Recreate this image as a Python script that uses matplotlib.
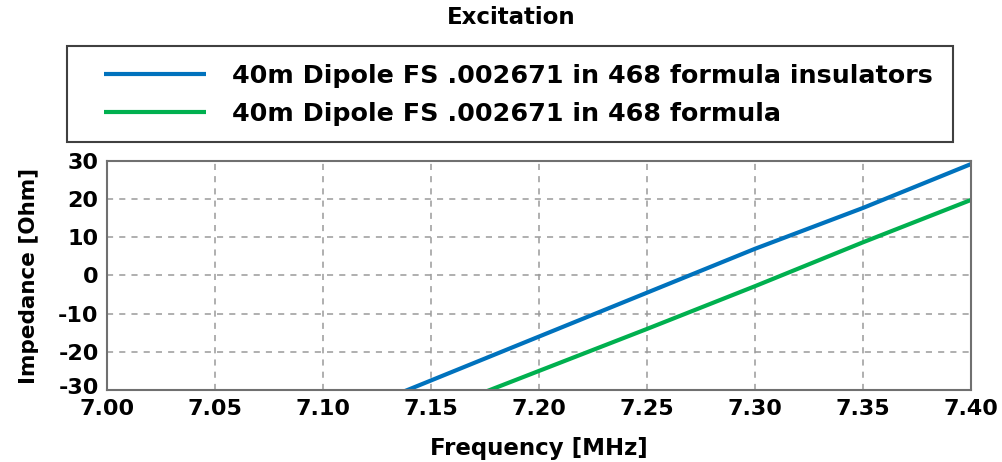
import matplotlib
matplotlib.use("Agg")
import matplotlib.pyplot as plt
from matplotlib.patches import Rectangle
from matplotlib.transforms import ScaledTranslation

# Frequency sweep [MHz] and input reactance [Ohm] for the two dipole models
freq_mhz = [7.10, 7.15, 7.20, 7.25, 7.30, 7.35, 7.40]
imp_insulators = [-39.0, -27.5, -16.0, -4.5, 7.0, 17.7, 29.2]
imp_formula = [-47.0, -36.0, -25.0, -14.0, -2.8, 8.7, 19.8]

series_labels = [
    "40m Dipole FS .002671 in 468 formula insulators",
    "40m Dipole FS .002671 in 468 formula",
]
series_colors = ["#0072BD", "#00B04F"]

x_ticks = [7.00, 7.05, 7.10, 7.15, 7.20, 7.25, 7.30, 7.35, 7.40]
y_ticks = [-30, -20, -10, 0, 10, 20, 30]

plt.rcParams["font.family"] = ["DejaVu Sans"]
plt.rcParams["font.weight"] = "bold"

W, H = 1003, 462
fig = plt.figure(figsize=(W / 100, H / 100), dpi=100)

left, right, top, bottom = 107, 971, 161, 390
ax = fig.add_axes([left / W, 1 - bottom / H, (right - left) / W, (bottom - top) / H])

lines = []
for vals, color, label in zip([imp_insulators, imp_formula], series_colors, series_labels):
    (ln,) = ax.plot(freq_mhz, vals, color=color, lw=3.0, label=label, solid_capstyle="butt")
    lines.append(ln)

ax.set_xlim(7.0, 7.4)
ax.set_ylim(-30, 30)
ax.set_xticks(x_ticks)
ax.set_xticklabels([f"{t:.2f}" for t in x_ticks])
ax.set_yticks(y_ticks)
ax.set_yticklabels([str(t) for t in y_ticks])
ax.tick_params(axis="both", length=0, labelsize=16)
ax.tick_params(axis="x", pad=6.5)
ax.tick_params(axis="y", pad=6)
for lab in ax.get_xticklabels() + ax.get_yticklabels():
    lab.set_fontweight("bold")

# lift the lowest y label a little so it clears the first x label
low_tick = ax.yaxis.get_major_ticks()[0]
low_tick.label1.set_transform(low_tick.label1.get_transform()
                              + ScaledTranslation(0, 4 / 100, fig.dpi_scale_trans))

ax.grid(True, color="#9a9a9a", linestyle=(0, (4, 4)), linewidth=1.1)
for sp in ax.spines.values():
    sp.set_color("#707070")
    sp.set_linewidth(1.5)

ax.set_xlabel("Frequency [MHz]", fontsize=16.5, fontweight="bold", labelpad=13)
ax.set_ylabel("Impedance [Ohm]", fontsize=15.5, fontweight="bold", labelpad=14)

fig.text(511 / W, 1 - 17 / H, "Excitation", ha="center", va="center",
         fontsize=16.5, fontweight="bold")

# Legend frame
bx0, bx1, by0, by1 = 67, 953, 46, 142
fig.patches.append(Rectangle((bx0 / W, 1 - by1 / H), (bx1 - bx0) / W, (by1 - by0) / H,
                             transform=fig.transFigure, fill=False,
                             edgecolor="#404040", linewidth=1.5))
leg = fig.legend(handles=lines, labels=series_labels, loc="upper left",
                 bbox_to_anchor=(104 / W, 1 - 64 / H), frameon=False,
                 borderpad=0, borderaxespad=0, handlelength=4.0, handletextpad=1.05,
                 labelspacing=0.55, prop={"size": 18.3, "weight": "bold"})

fig.savefig("out.png", dpi=100)
